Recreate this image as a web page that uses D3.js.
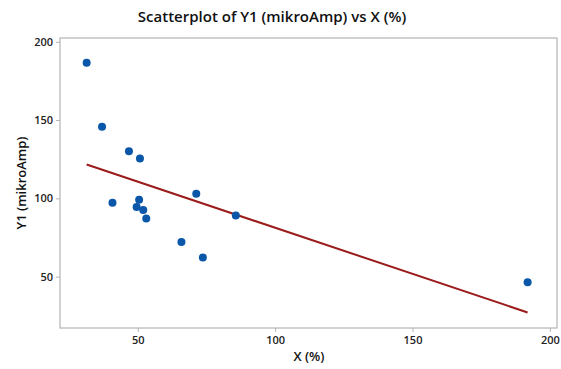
<!DOCTYPE html>
<html><head><meta charset="utf-8">
<script src="https://cdn.jsdelivr.net/npm/d3@7"></script>
<style>body{margin:0;background:#fff;} text{font-family:"Open Sans","Noto Sans",sans-serif;}</style>
</head><body><svg id="c" width="561" height="369"></svg>
<script>
const xValues = [31.4, 37.0, 46.8, 50.8, 40.8, 50.5, 49.6, 52.0, 53.1, 65.9, 73.7, 71.3, 85.7, 191.9];
const yValues = [186.6, 145.8, 130.1, 125.4, 97.2, 99.1, 94.4, 92.5, 87.2, 72.2, 62.2, 103.0, 89.1, 46.4];
const xTicks = [50, 100, 150, 200];
const yTicks = [50, 100, 150, 200];
const title = "Scatterplot of Y1 (mikroAmp) vs X (%)";
const xLabel = "X (%)";
const yLabel = "Y1 (mikroAmp)";

const svg = d3.select("#c");
const L = 60, R = 557, T = 38, B = 328;
const x = d3.scaleLinear().domain([21.7, 202.6]).range([L, R]);
const y = d3.scaleLinear().domain([17.2, 202.4]).range([B, T]);

svg.append("rect").attr("x", L).attr("y", T).attr("width", R - L).attr("height", B - T)
  .attr("fill", "#fff").attr("stroke", "#b4b4b4").attr("stroke-width", 1.2);

const xa = svg.append("g").attr("transform", `translate(0,${B})`)
  .call(d3.axisBottom(x).tickValues(xTicks).tickSize(4).tickPadding(4));
const ya = svg.append("g").attr("transform", `translate(${L},0)`)
  .call(d3.axisLeft(y).tickValues(yTicks).tickSize(4).tickPadding(3));
[xa, ya].forEach(a => {
  a.select(".domain").remove();
  a.selectAll("line").attr("stroke", "#b4b4b4");
  a.selectAll("text").attr("font-size", 11).attr("fill", "#222").attr("font-weight", 600)
   .style("font-family", '"Open Sans","Noto Sans",sans-serif');
});

// least squares fit
const mx = d3.mean(xValues), my = d3.mean(yValues);
let sxy = 0, sxx = 0;
xValues.forEach((v, i) => { sxy += (v - mx) * (yValues[i] - my); sxx += (v - mx) ** 2; });
const slope = sxy / sxx, icpt = my - slope * mx;
const x0 = d3.min(xValues), x1 = d3.max(xValues);
svg.append("line").attr("x1", x(x0)).attr("y1", y(icpt + slope * x0))
  .attr("x2", x(x1)).attr("y2", y(icpt + slope * x1))
  .attr("stroke", "#9b1b1b").attr("stroke-width", 2);

svg.append("g").selectAll("circle").data(xValues).join("circle")
  .attr("cx", d => x(d)).attr("cy", (d, i) => y(yValues[i])).attr("r", 4)
  .attr("fill", "#0a56a8");

svg.append("text").attr("x", 272).attr("y", 22).attr("text-anchor", "middle")
  .attr("font-size", 15).attr("font-weight", 600).attr("fill", "#111").text(title);
svg.append("text").attr("x", 309).attr("y", 361).attr("text-anchor", "middle")
  .attr("font-size", 13).attr("font-weight", 600).attr("fill", "#111").text(xLabel);
svg.append("text").attr("transform", "translate(26,183) rotate(-90)").attr("text-anchor", "middle")
  .attr("font-size", 13).attr("font-weight", 600).attr("fill", "#111").text(yLabel);
</script></body></html>
